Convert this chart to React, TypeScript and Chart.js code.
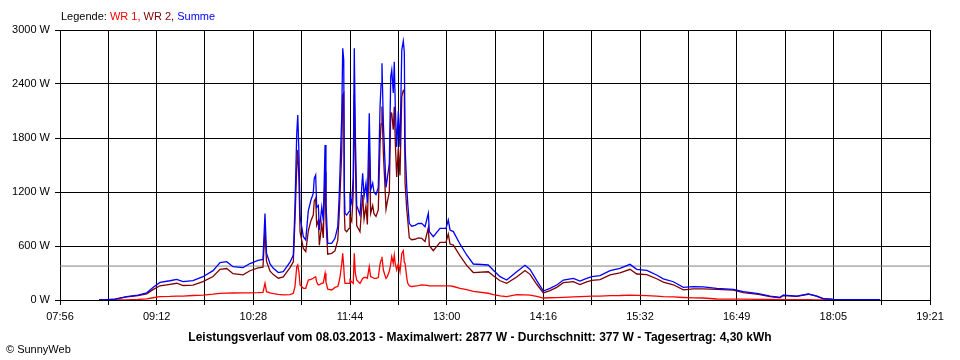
import React, { useEffect, useRef } from "react";
import { Chart, registerables } from "chart.js";

Chart.register(...registerables);

// Time of day in minutes since midnight (e.g. 663.2 = 11:03:12)
const times = [
  506.7, 513.8, 519.3, 523.2, 528.5, 532.7, 537.4, 544.3, 549.2, 554.7,
  562.6, 567.9, 572.9, 580.7, 588.6, 596.5, 602.0, 607.3, 612.2, 620.1,
  625.6, 631.9, 635.8, 637.4, 638.6, 641.4, 644.0, 647.9, 651.8, 657.1,
  659.7, 661.0, 662.4, 663.2, 664.2, 665.0, 666.3, 667.6, 669.5, 671.5,
  673.6, 675.4, 676.2, 677.3, 678.1, 679.4, 680.2, 682.1, 683.3, 684.7,
  685.4, 686.8, 689.9, 692.5, 694.7, 695.7, 696.5, 697.8, 698.6, 699.4,
  699.9, 700.4, 701.7, 703.6, 704.3, 705.7, 706.9, 707.7, 708.5, 709.6,
  712.2, 714.3, 715.4, 716.9, 718.0, 719.5, 720.6, 722.2, 723.2, 724.8,
  726.6, 728.0, 728.8, 729.5, 730.6, 731.7, 732.7, 733.7, 735.3, 736.4,
  737.2, 738.4, 739.2, 740.0, 741.1, 742.4, 743.7, 745.1, 746.3, 747.1,
  747.7, 749.0, 749.8, 751.0, 752.9, 755.5, 758.1, 760.8, 763.4, 766.0,
  766.8, 769.9, 775.2, 779.9, 781.7, 783.1, 785.7, 791.0, 796.2, 801.4,
  813.2, 817.2, 822.5, 827.7, 835.6, 842.1, 846.1, 851.4, 856.6, 861.8,
  867.1, 872.3, 880.2, 885.4, 890.7, 894.7, 901.2, 909.1, 916.9, 924.8,
  930.1, 938.0, 945.8, 951.0, 958.9, 966.8, 974.7, 982.5, 993.1, 1006.2,
  1014.0, 1025.9, 1035.1, 1042.9, 1045.5, 1056.1, 1065.2, 1071.8, 1077.0, 1084.9,
  1121.7,
];

// Summe (W)
const summeW = [
  0, 5, 10, 20, 37, 45, 55, 80, 140, 195,
  214, 230, 205, 215, 259, 326, 415, 426, 370, 360,
  405, 440, 450, 960, 520, 400, 352, 305, 315, 420,
  500, 1030, 1850, 2055, 1600, 925, 815, 703, 667, 990,
  1111, 1185, 1352, 1389, 1030, 1050, 778, 1030, 880, 1722,
  1080, 630, 630, 685, 815, 1111, 1444, 2037, 2796, 2667,
  1222, 963, 944, 981, 1150, 1074, 1370, 2796, 1889, 1050,
  944, 1407, 1150, 1296, 1080, 2074, 1222, 1300, 1200, 1170,
  1250, 2148, 2400, 2630, 1963, 1593, 1250, 1350, 1520, 2481,
  2556, 2300, 2648, 2148, 1700, 2100, 1700, 2778, 2877, 2750,
  1704, 1259, 1074, 852, 820, 830, 850, 852, 815, 963,
  760, 704, 796, 796, 889, 778, 760, 620, 500, 400,
  389, 330, 259, 222, 315, 385, 340, 215, 100, 130,
  167, 222, 240, 210, 241, 259, 270, 326, 352, 396,
  341, 330, 278, 235, 203, 141, 148, 145, 130, 119,
  92, 70, 44, 30, 55, 44, 67, 44, 15, 8,
  5,
];

// WR 1 (W)
const wr1W = [
  0, 0, 0, 0, 2, 4, 6, 12, 25, 37,
  40, 44, 44, 50, 55, 65, 74, 76, 78, 80,
  80, 82, 85, 185, 92, 80, 70, 63, 58, 60,
  75, 148, 370, 389, 300, 167, 150, 130, 130, 222,
  230, 241, 250, 259, 200, 167, 170, 185, 190, 296,
  200, 120, 111, 140, 150, 200, 259, 400, 518, 370,
  250, 185, 185, 185, 222, 200, 185, 518, 300, 222,
  185, 240, 250, 250, 241, 370, 259, 250, 241, 241,
  250, 400, 444, 481, 333, 280, 241, 260, 320, 400,
  481, 407, 500, 400, 333, 407, 315, 518, 548, 420,
  407, 250, 185, 160, 150, 155, 160, 167, 165, 160,
  156, 156, 156, 156, 156, 156, 150, 130, 115, 95,
  75, 60, 45, 37, 60, 58, 55, 40, 22, 25,
  27, 30, 35, 38, 40, 42, 44, 48, 50, 55,
  52, 48, 42, 37, 34, 28, 24, 22, 11, 10,
  9, 8, 6, 5, 5, 4, 3, 2, 1, 0,
  0,
];

// WR 2 (W)
const wr2W = [
  0, 5, 10, 20, 35, 41, 49, 68, 115, 158,
  174, 186, 161, 165, 204, 261, 341, 350, 292, 280,
  325, 358, 365, 775, 428, 320, 282, 242, 257, 360,
  425, 882, 1480, 1666, 1300, 758, 665, 573, 537, 768,
  881, 944, 1102, 1130, 830, 883, 608, 845, 690, 1426,
  880, 510, 519, 545, 665, 911, 1185, 1637, 2278, 2297,
  972, 778, 759, 796, 928, 874, 1185, 2278, 1589, 828,
  759, 1167, 900, 1046, 839, 1704, 963, 1050, 959, 929,
  1000, 1748, 1956, 2149, 1630, 1313, 1009, 1090, 1200, 2081,
  2075, 1893, 2148, 1748, 1367, 1693, 1385, 2260, 2329, 2330,
  1297, 1009, 889, 692, 670, 675, 690, 685, 650, 803,
  604, 548, 640, 640, 733, 622, 610, 490, 385, 305,
  314, 270, 214, 185, 255, 327, 285, 175, 78, 105,
  140, 192, 205, 172, 201, 217, 226, 278, 302, 341,
  289, 282, 236, 198, 169, 113, 124, 123, 119, 109,
  83, 62, 38, 25, 50, 40, 64, 42, 14, 8,
  5,
];

const xTickLabels = ["07:56", "09:12", "10:28", "11:44", "13:00", "14:16", "15:32", "16:49", "18:05", "19:21"];
const yTickStep = 600;
const yMax = 3000;
const averageW = 377;

const titleText =
  "Leistungsverlauf vom 08.03.2013 - Maximalwert: 2877 W - Durchschnitt: 377 W - Tagesertrag: 4,30 kWh";

const FONT = "'Liberation Sans', Arial, sans-serif";

const toMin = (s: string) => {
  const [h, m] = s.split(":").map(Number);
  return h * 60 + m;
};

export default function App() {
  const ref = useRef<HTMLCanvasElement | null>(null);

  useEffect(() => {
    if (!ref.current) return;
    const xMin = toMin(xTickLabels[0]);
    const xMax = toMin(xTickLabels[xTickLabels.length - 1]);
    const pts = (vals: number[]) => times.map((t, i) => ({ x: t, y: vals[i] }));

    const chart = new Chart(ref.current, {
      type: "line",
      data: {
        datasets: [
          { label: "Summe", data: pts(summeW), borderColor: "#0000ff", borderWidth: 1.3, pointRadius: 0, tension: 0 },
          { label: "WR 2", data: pts(wr2W), borderColor: "#800000", borderWidth: 1.3, pointRadius: 0, tension: 0 },
          { label: "WR 1", data: pts(wr1W), borderColor: "#ff0000", borderWidth: 1.3, pointRadius: 0, tension: 0 },
          {
            label: "Durchschnitt",
            data: [
              { x: xMin, y: averageW },
              { x: xMax, y: averageW },
            ],
            borderColor: "#808080",
            borderWidth: 1,
            pointRadius: 0,
          },
        ],
      },
      options: {
        animation: false,
        responsive: false,
        maintainAspectRatio: false,
        layout: { padding: { top: 30, right: 30, left: 0, bottom: 0 } },
        plugins: { legend: { display: false }, tooltip: { enabled: false } },
        scales: {
          x: {
            type: "linear",
            min: xMin,
            max: xMax,
            afterBuildTicks: (scale: any) => {
              const n = (xTickLabels.length - 1) * 2;
              scale.ticks = Array.from({ length: n + 1 }, (_, i) => ({ value: xMin + ((xMax - xMin) * i) / n }));
            },
            afterFit: (scale: any) => {
              scale.height = 60;
            },
            ticks: {
              autoSkip: false,
              maxRotation: 0,
              minRotation: 0,
              padding: 5,
              color: "#000",
              font: { family: FONT, size: 11 },
              callback: (_v: any, i: number) => (i % 2 === 0 ? xTickLabels[i / 2] : ""),
            },
            grid: { color: "#000", lineWidth: 1, tickLength: 5, tickColor: "#000" },
            border: { color: "#000", width: 1 },
          },
          y: {
            min: 0,
            max: yMax,
            afterFit: (scale: any) => {
              scale.width = 60;
            },
            ticks: {
              stepSize: yTickStep,
              padding: 5,
              color: "#000",
              font: { family: FONT, size: 11 },
              callback: (v: any) => `${v} W`,
            },
            grid: { color: "#000", lineWidth: 1, tickLength: 5, tickColor: "#000" },
            border: { color: "#000", width: 1 },
          },
        },
      },
    });
    return () => chart.destroy();
  }, []);

  return (
    <div
      style={{
        position: "absolute",
        left: 0,
        top: 0,
        width: 960,
        height: 360,
        background: "#fff",
        fontFamily: FONT,
        color: "#000",
        overflow: "hidden",
      }}
    >
      <canvas ref={ref} width={960} height={360} style={{ position: "absolute", left: 0, top: 0 }} />
      <div style={{ position: "absolute", left: 61, top: 10, fontSize: 11, lineHeight: "13px", whiteSpace: "nowrap" }}>
        Legende: <span style={{ color: "#ff0000" }}>WR 1,</span> <span style={{ color: "#800000" }}>WR 2,</span>{" "}
        <span style={{ color: "#0000ff" }}>Summe</span>
      </div>
      <div
        style={{
          position: "absolute",
          left: 0,
          top: 330,
          width: 960,
          textAlign: "center",
          fontSize: 12,
          lineHeight: "14px",
          fontWeight: "bold",
          whiteSpace: "nowrap",
        }}
      >
        {titleText}
      </div>
      <div style={{ position: "absolute", left: 6, top: 343, fontSize: 11, lineHeight: "13px", whiteSpace: "nowrap" }}>
        © SunnyWeb
      </div>
    </div>
  );
}
